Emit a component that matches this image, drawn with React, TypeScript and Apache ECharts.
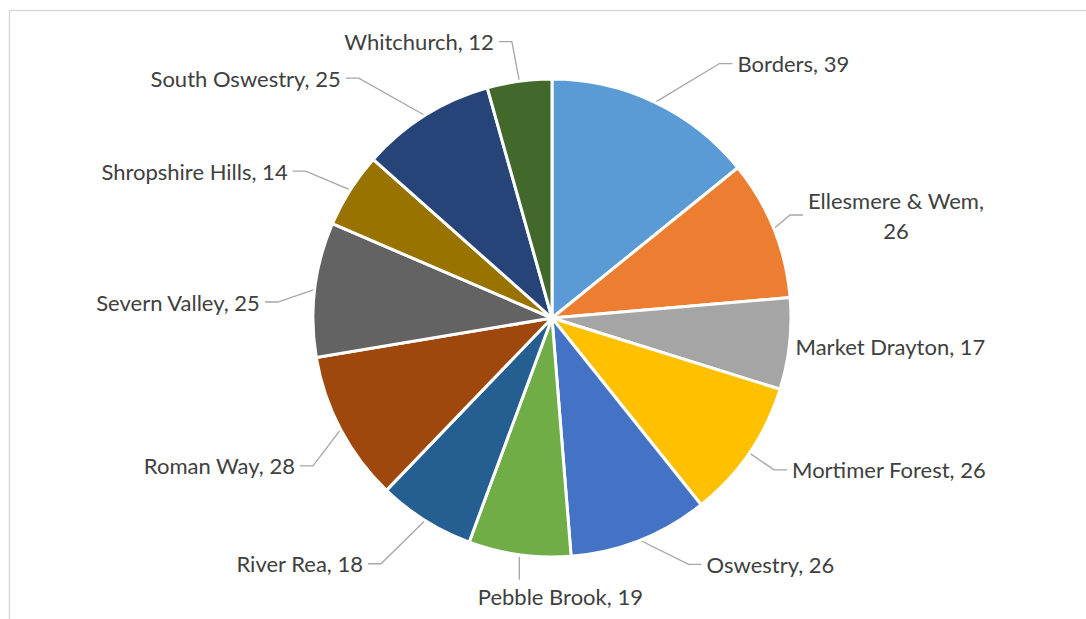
import React, { useEffect, useRef } from "react";
import * as echarts from "echarts";

const categories = [
  "Borders",
  "Ellesmere & Wem",
  "Market Drayton",
  "Mortimer Forest",
  "Oswestry",
  "Pebble Brook",
  "River Rea",
  "Roman Way",
  "Severn Valley",
  "Shropshire Hills",
  "South Oswestry",
  "Whitchurch",
];
const values = [39, 26, 17, 26, 26, 19, 18, 28, 25, 14, 25, 12];
const colors = [
  "#5B9BD5",
  "#ED7D31",
  "#A5A5A5",
  "#FFC000",
  "#4472C4",
  "#70AD47",
  "#255E91",
  "#9E480E",
  "#636363",
  "#997300",
  "#264478",
  "#43682B",
];

// leader line settings per slice (label placement only)
const leaderLen1 = [43, 10, 0, 30, 26, 25, 51, 20, 20, 35, 44, 40];
const leaderLen2 = [59, 20, 1, 13, 52, 0, 30, 23, 30, 28, 56, 15];
const leaderDy = [0, -10, 3, 0, 0, 0, 0, 27, 15, 0, 0, 0];
const BEND = 13;
const FONT = "Lato, 'Open Sans', sans-serif";

export default function App() {
  const ref = useRef<HTMLDivElement>(null);
  useEffect(() => {
    const chart = echarts.init(ref.current!, null, { renderer: "svg" });
    chart.setOption({
      animation: false,
      backgroundColor: "#ffffff",
      graphic: [
        {
          type: "rect",
          shape: { x: 9.5, y: 10.5, width: 1200, height: 800 },
          style: { fill: "none", stroke: "#d9d9d9", lineWidth: 1.5 },
          silent: true,
        },
      ],
      series: [
        {
          type: "pie",
          center: [552, 318],
          radius: 239,
          startAngle: 90,
          clockwise: true,
          avoidLabelOverlap: false,
          itemStyle: { borderColor: "#ffffff", borderWidth: 3 },
          label: {
            show: true,
            position: "outside",
            color: "#404040",
            fontSize: 22,
            fontFamily: FONT,
            formatter: (p: any) =>
              p.name === "Ellesmere & Wem"
                ? `{a|${p.name},}\n{b|${p.value}}`
                : `${p.name}, ${p.value}`,
            rich: {
              a: { fontSize: 22, fontFamily: FONT, color: "#404040", lineHeight: 30 },
              b: {
                fontSize: 22,
                fontFamily: FONT,
                color: "#404040",
                lineHeight: 30,
                align: "center",
              },
            },
          },
          labelLine: {
            show: true,
            lineStyle: { color: "#a6a6a6", width: 1.3 },
          },
          labelLayout: (params: any) => {
            const i = params.dataIndex;
            const pts = params.labelLinePoints;
            const dy = leaderDy[i];
            if (!pts) return { dy };
            const p1 = pts[0];
            const p3 = pts[pts.length - 1];
            if (categories[i] === "Pebble Brook") {
              return {
                x: p1[0] + 41,
                y: p1[1] + 42,
                align: "center",
                verticalAlign: "middle",
                labelLinePoints: [
                  [p1[0], p1[1] + 2],
                  [p1[0], p1[1] + 25],
                  [p1[0], p1[1] + 25],
                ],
              };
            }
            const side = p3[0] >= p1[0] ? 1 : -1;
            const y3 = p3[1] + dy;
            return {
              dy,
              labelLinePoints: [
                p1,
                [p3[0] - side * BEND, y3],
                [p3[0], y3],
              ],
            };
          },
          data: categories.map((c, i) => ({
            name: c,
            value: values[i],
            itemStyle: { color: colors[i] },
            labelLine: {
              show: c !== "Market Drayton",
              length: leaderLen1[i],
              length2: leaderLen2[i],
            },
          })),
        },
      ],
    });
    return () => chart.dispose();
  }, []);
  return (
    <div
      ref={ref}
      style={{ position: "absolute", left: 0, top: 0, width: 1086, height: 619 }}
    />
  );
}
